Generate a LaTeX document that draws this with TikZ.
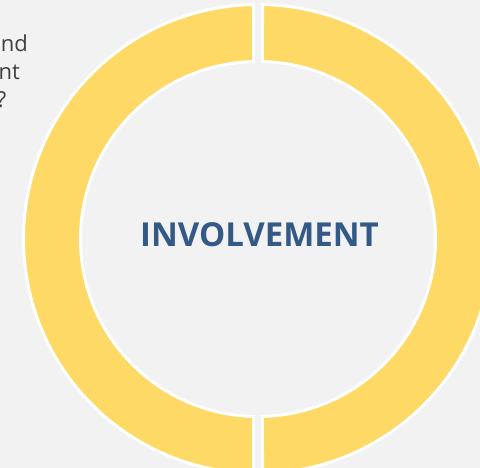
\documentclass[tikz,border=0pt]{standalone}
\usepackage{fontspec}
\setmainfont{Open Sans}
\usetikzlibrary{positioning}
\definecolor{ringyellow}{HTML}{FFD966}
\definecolor{bggray}{HTML}{F2F2F2}
\definecolor{titleblue}{HTML}{335A87}
\definecolor{textgray}{HTML}{3F3F3F}

\begin{document}
\begin{tikzpicture}[x=1pt, y=1pt,
    segment/.style={fill=ringyellow, draw=white, line width=3pt, line join=miter},
    sidetext/.style={text=textgray, font=\fontsize{22}{28}\selectfont, inner sep=0pt, anchor=base east}]
    \fill[bggray] (0,0) rectangle (480,468);
    \useasboundingbox (0,0) rectangle (480,468);
    % ring centre and radii
    \coordinate (C) at (258,229);
    \def\Ro{234.5}
    \def\Ri{177.5}
    \pgfmathsetmacro{\ao}{asin(4.5/\Ro)}
    \pgfmathsetmacro{\ai}{asin(4.5/\Ri)}
    % left half
    \draw[segment] ([shift={(90+\ao:\Ro)}]C) arc[start angle=90+\ao, end angle=270-\ao, radius=\Ro]
        -- ([shift={(270-\ai:\Ri)}]C) arc[start angle=270-\ai, end angle=90+\ai, radius=\Ri] -- cycle;
    % right half
    \draw[segment] ([shift={(90-\ao:\Ro)}]C) arc[start angle=90-\ao, end angle=-90+\ao, radius=\Ro]
        -- ([shift={(-90+\ai:\Ri)}]C) arc[start angle=-90+\ai, end angle=90-\ai, radius=\Ri] -- cycle;
    \node[font=\fontsize{33}{40}\selectfont\bfseries, text=titleblue] (title) at (259.5,233.5) {INVOLVEMENT};
    % cut-off text on the left
    \node[sidetext] (and) at (28,416) {and};
    \node[sidetext] (nt) at (20,388) {nt};
    \node[sidetext] (qmark) at (6.5,360) {?};
\end{tikzpicture}
\end{document}
